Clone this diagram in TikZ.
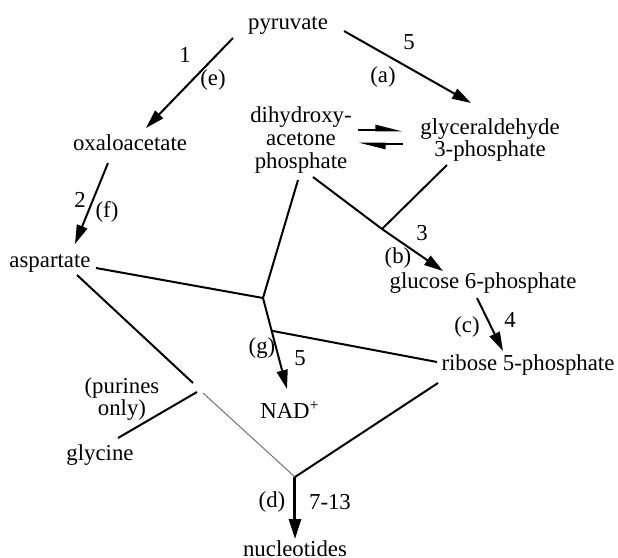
\documentclass[tikz,border=0pt]{standalone}
\usepackage{fontspec}
\setmainfont{Liberation Serif}
\usetikzlibrary{arrows.meta,calc}

\tikzset{
  met/.style={anchor=base, inner sep=0pt, font=\fontsize{11.4}{11.3}\selectfont},
  stack/.style={anchor=center, align=center, inner sep=0pt, font=\fontsize{11.4}{11.3}\selectfont},
  enz/.style={inner sep=0pt, font=\fontsize{11.4}{11.3}\selectfont},
  link/.style={line width=1pt},
  rxn/.style={line width=1pt, -{Triangle[length=9.5pt,width=5.5pt]}},
  equil/.style={line width=1.3pt, -{Triangle[harpoon,length=11pt,width=5pt]}},
}

\begin{document}
\begin{tikzpicture}[x=0.5pt, y=-0.5pt]
    \useasboundingbox (0,0) rectangle (618,558);

    % metabolites
    \node[met] (pyr) at (288,29) {pyruvate};
    \node[met] (oxa) at (130,150) {oxaloacetate};
    \node[met] (asp) at (50,267) {aspartate};
    \node[stack] (dhap) at (301,140) {dihydroxy-\\acetone\\phosphate};
    \node[stack] (gap) at (490,140) {glyceraldehyde\\3-phosphate};
    \node[met] (g6p) at (483,288) {glucose 6-phosphate};
    \node[met] (r5p) at (528,370) {ribose 5-phosphate};
    \node[met] (nad) at (290,418) {NAD\textsuperscript{+}};
    \node[stack] (pur) at (122,399) {(purines\\only)};
    \node[met] (gly) at (100,460) {glycine};
    \node[met] (nuc) at (295,556) {nucleotides};

    % ends of the connectors
    \coordinate (pyr-e) at (233,38);   \coordinate (oxa-e) at (146,128);
    \coordinate (pyr-a) at (344,31);   \coordinate (gap-a) at (471,103);
    \coordinate (oxa-f) at (108,163);  \coordinate (asp-f) at (75,244);
    \coordinate (dhap-b) at (313,177); \coordinate (gap-b) at (447,165);
    \coordinate (g6p-b) at (443,271);
    \coordinate (g6p-c) at (477,298);  \coordinate (r5p-c) at (503,351);
    \coordinate (asp-g) at (96,268);   \coordinate (dhap-g) at (298,180);
    \coordinate (nad-g) at (287,389);  \coordinate (r5p-g) at (437,362);
    \coordinate (asp-d) at (77,275);   \coordinate (asp-x) at (193,383);
    \coordinate (gly-d) at (118,438);  \coordinate (gly-x) at (197,392);
    \coordinate (r5p-d) at (438,383);  \coordinate (nuc-d) at (295,539);
    \coordinate (pur-d) at (203,393);
    % branch points
    \coordinate (jb) at (382,229);
    \coordinate (jg) at (263,298);
    \coordinate (jr) at ($(jg)!0.36!(nad-g)$);
    \coordinate (jd) at (295,477);

    % reactions
    \draw[rxn] (pyr-e) -- (oxa-e);
    \draw[rxn] (pyr-a) -- (gap-a);
    \draw[rxn] (oxa-f) -- (asp-f);
    \draw[link] (dhap-b) -- (jb);
    \draw[link] (gap-b) -- (jb);
    \draw[rxn] (jb) -- (g6p-b);
    \draw[rxn] (g6p-c) -- (r5p-c);
    \draw[link] (asp-g) -- (jg);
    \draw[link] (dhap-g) -- (jg);
    \draw[rxn] (jg) -- (nad-g);
    \draw[link] (r5p-g) -- (jr);
    \draw[link] (asp-d) -- (asp-x);
    \draw[link] (gly-d) -- (gly-x);
    \draw[line width=0.5pt, black!55] (pur-d) -- (jd);
    \draw[link] (r5p-d) -- (jd);
    \draw[line width=1.5pt, -{Triangle[length=10pt,width=6pt]}] (jd) -- (nuc-d);

    % equilibrium between the triose phosphates
    \coordinate (eq-l) at (358,130);  \coordinate (eq-r) at (403,130);
    \draw[equil] (eq-l) -- (eq-r);
    \draw[equil] ([yshift=-7]eq-r) -- ([yshift=-7]eq-l);

    % enzyme numbers and step letters
    \foreach \n/\x/\y/\t in {n1/185/55/1, le/213/80/(e), n5/409/42/5, la/383/77/(a),
                             n2/80/200/2, lf/107/212/(f), n3/422/233/3, lb/398/258/(b),
                             lc/467/327/(c), n4/510/320/4, lg/262/348/(g), n5b/300/358/5,
                             ld/272/502/(d), n7/330/502/7-13} {
        \node[enz] (\n) at (\x,\y) {\t};
    }
\end{tikzpicture}
\end{document}
